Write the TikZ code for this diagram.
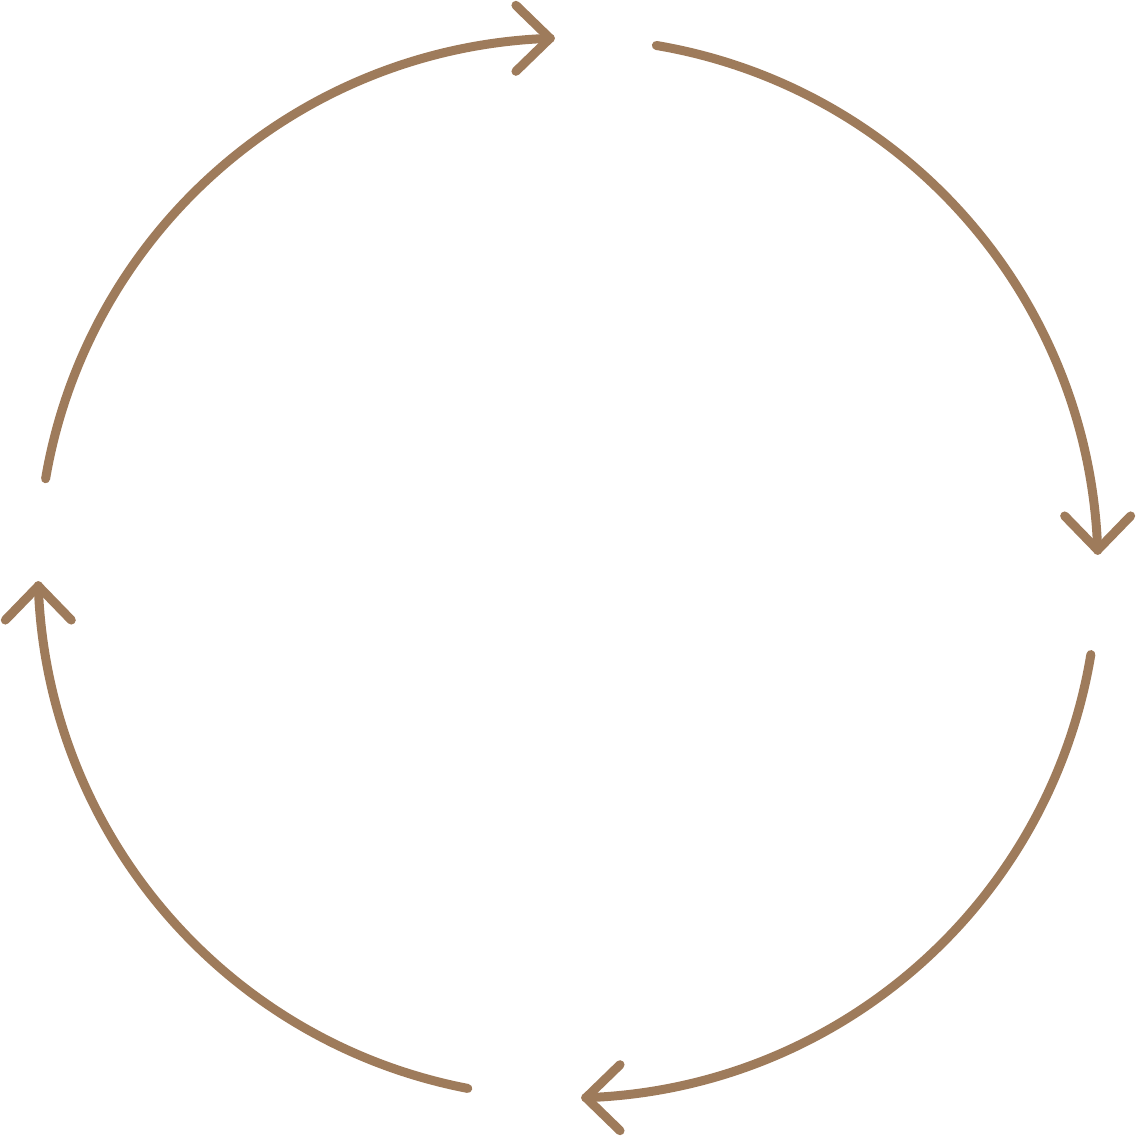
\documentclass[tikz,border=0pt]{standalone}
\definecolor{cyc}{RGB}{158,123,91}
\usetikzlibrary{
  arrows.meta      % open chevron tips
}
\tikzset{
    cycle/.style = {
        draw = cyc,
        line width = 0.09cm,
        line cap = round,
        line join = round
    },
    ->,        % arrows for all
    >={Straight Barb[length=0.34cm, width=0.66cm, round]}  % arrow type
}

\begin{document}
\begin{tikzpicture}

  \useasboundingbox (-5.68,-5.68) rectangle (5.68,5.68);

  %% centre of the cycle
  \coordinate (O) at (0,0);

  %% top left
  \draw [cycle] (O) ++(170.3:5.3) coordinate (A1)
    arc [start angle=170.3, end angle=91.9, radius=5.3] -- ++(0.04,0) coordinate (B1);

  %% top right
  \draw [cycle] (O) ++(80.4:5.3) coordinate (A2)
    arc [start angle=80.4, end angle=1.9, radius=5.3] -- ++(0,-0.04) coordinate (B2);

  %% bottom right
  \draw [cycle] (O) ++(-9.4:5.3) coordinate (A3)
    arc [start angle=-9.4, end angle=-88.1, radius=5.3] -- ++(-0.04,0) coordinate (B3);

  %% bottom left
  \draw [cycle] (O) ++(-100.9:5.3) coordinate (A4)
    arc [start angle=-100.9, end angle=-178.1, radius=5.3] -- ++(0,0.04) coordinate (B4);

\end{tikzpicture}
\end{document}
